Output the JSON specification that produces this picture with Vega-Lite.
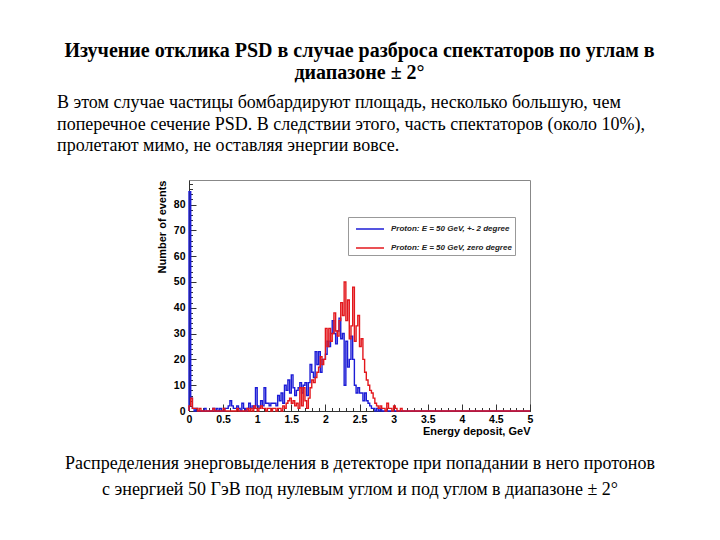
{
  "$schema": "https://vega.github.io/schema/vega-lite/v6.json",
  "width": 341,
  "height": 231,
  "autosize": {"type": "none"},
  "padding": {"left": 189, "top": 180, "right": 190, "bottom": 129},
  "background": "white",
  "config": {"view": {"stroke": "#888", "strokeWidth": 1}},
  "title": {
    "text": ["Изучение отклика PSD в случае разброса спектаторов по углам в", "диапазоне ± 2°"],
    "frame": "group",
    "anchor": "middle",
    "font": "Liberation Serif",
    "fontSize": 20,
    "fontWeight": "bold",
    "color": "black",
    "lineHeight": 22,
    "offset": 11
  },
  "datasets": {
    "blue": [{"e":0,"n":0},{"e":0,"n":85},{"e":0.025,"n":5},{"e":0.05,"n":1},{"e":0.075,"n":0},{"e":0.1,"n":1},{"e":0.125,"n":0},{"e":0.15,"n":0},{"e":0.175,"n":0},{"e":0.2,"n":0},{"e":0.225,"n":1},{"e":0.25,"n":0},{"e":0.275,"n":0},{"e":0.3,"n":0},{"e":0.325,"n":0},{"e":0.35,"n":1},{"e":0.375,"n":0},{"e":0.4,"n":1},{"e":0.425,"n":0},{"e":0.45,"n":1},{"e":0.475,"n":0},{"e":0.5,"n":0},{"e":0.525,"n":1},{"e":0.55,"n":1},{"e":0.575,"n":2},{"e":0.6,"n":4},{"e":0.625,"n":2},{"e":0.65,"n":1},{"e":0.675,"n":1},{"e":0.7,"n":2},{"e":0.725,"n":1},{"e":0.75,"n":0},{"e":0.775,"n":3},{"e":0.8,"n":1},{"e":0.825,"n":0},{"e":0.85,"n":1},{"e":0.875,"n":3},{"e":0.9,"n":1},{"e":0.925,"n":2},{"e":0.95,"n":1},{"e":0.975,"n":9},{"e":1,"n":2},{"e":1.025,"n":1},{"e":1.05,"n":4},{"e":1.075,"n":2},{"e":1.1,"n":9},{"e":1.125,"n":3},{"e":1.15,"n":3},{"e":1.175,"n":2},{"e":1.2,"n":3},{"e":1.225,"n":3},{"e":1.25,"n":3},{"e":1.275,"n":2},{"e":1.3,"n":6},{"e":1.325,"n":4},{"e":1.35,"n":7},{"e":1.375,"n":3},{"e":1.4,"n":10},{"e":1.425,"n":8},{"e":1.45,"n":12},{"e":1.475,"n":7},{"e":1.5,"n":14},{"e":1.525,"n":9},{"e":1.55,"n":6},{"e":1.575,"n":8},{"e":1.6,"n":9},{"e":1.625,"n":11},{"e":1.65,"n":7},{"e":1.675,"n":10},{"e":1.7,"n":11},{"e":1.725,"n":6},{"e":1.75,"n":11},{"e":1.775,"n":18},{"e":1.8,"n":15},{"e":1.825,"n":13},{"e":1.85,"n":23},{"e":1.875,"n":18},{"e":1.9,"n":23},{"e":1.925,"n":15},{"e":1.95,"n":20},{"e":1.975,"n":20},{"e":2,"n":22},{"e":2.025,"n":27},{"e":2.05,"n":25},{"e":2.075,"n":30},{"e":2.1,"n":35},{"e":2.125,"n":30},{"e":2.15,"n":26},{"e":2.175,"n":31},{"e":2.2,"n":36},{"e":2.225,"n":28},{"e":2.25,"n":30},{"e":2.275,"n":10},{"e":2.3,"n":27},{"e":2.325,"n":17},{"e":2.35,"n":20},{"e":2.375,"n":29},{"e":2.4,"n":20},{"e":2.425,"n":10},{"e":2.45,"n":7},{"e":2.475,"n":9},{"e":2.5,"n":7},{"e":2.525,"n":7},{"e":2.55,"n":4},{"e":2.575,"n":7},{"e":2.6,"n":4},{"e":2.625,"n":3},{"e":2.65,"n":2},{"e":2.675,"n":1},{"e":2.7,"n":1},{"e":2.725,"n":0},{"e":2.75,"n":1},{"e":2.775,"n":0},{"e":2.8,"n":1},{"e":2.825,"n":0},{"e":5,"n":0}],
    "red": [{"e":0,"n":0},{"e":0,"n":2},{"e":0.025,"n":5},{"e":0.05,"n":1},{"e":0.075,"n":1},{"e":0.1,"n":1},{"e":0.125,"n":0},{"e":0.15,"n":1},{"e":0.175,"n":0},{"e":0.2,"n":0},{"e":0.225,"n":0},{"e":0.25,"n":0},{"e":0.275,"n":0},{"e":0.3,"n":0},{"e":0.325,"n":0},{"e":0.35,"n":1},{"e":0.375,"n":0},{"e":0.4,"n":0},{"e":0.425,"n":0},{"e":0.45,"n":0},{"e":0.475,"n":0},{"e":0.5,"n":1},{"e":0.525,"n":0},{"e":0.55,"n":0},{"e":0.575,"n":0},{"e":0.6,"n":0},{"e":0.625,"n":0},{"e":0.65,"n":0},{"e":0.675,"n":0},{"e":0.7,"n":1},{"e":0.725,"n":0},{"e":0.75,"n":0},{"e":0.775,"n":0},{"e":0.8,"n":0},{"e":0.825,"n":0},{"e":0.85,"n":1},{"e":0.875,"n":0},{"e":0.9,"n":1},{"e":0.925,"n":0},{"e":0.95,"n":2},{"e":0.975,"n":1},{"e":1,"n":0},{"e":1.025,"n":1},{"e":1.05,"n":2},{"e":1.075,"n":1},{"e":1.1,"n":1},{"e":1.125,"n":0},{"e":1.15,"n":1},{"e":1.175,"n":1},{"e":1.2,"n":0},{"e":1.225,"n":1},{"e":1.25,"n":1},{"e":1.275,"n":0},{"e":1.3,"n":1},{"e":1.325,"n":1},{"e":1.35,"n":0},{"e":1.375,"n":2},{"e":1.4,"n":1},{"e":1.425,"n":3},{"e":1.45,"n":4},{"e":1.475,"n":5},{"e":1.5,"n":3},{"e":1.525,"n":4},{"e":1.55,"n":2},{"e":1.575,"n":3},{"e":1.6,"n":1},{"e":1.625,"n":9},{"e":1.65,"n":2},{"e":1.675,"n":9},{"e":1.7,"n":4},{"e":1.725,"n":1},{"e":1.75,"n":5},{"e":1.775,"n":9},{"e":1.8,"n":12},{"e":1.825,"n":11},{"e":1.85,"n":13},{"e":1.875,"n":15},{"e":1.9,"n":17},{"e":1.925,"n":21},{"e":1.95,"n":18},{"e":1.975,"n":20},{"e":2,"n":32},{"e":2.025,"n":25},{"e":2.05,"n":32},{"e":2.075,"n":27},{"e":2.1,"n":30},{"e":2.125,"n":38},{"e":2.15,"n":31},{"e":2.175,"n":29},{"e":2.2,"n":35},{"e":2.225,"n":42},{"e":2.25,"n":37},{"e":2.275,"n":50},{"e":2.3,"n":35},{"e":2.325,"n":43},{"e":2.35,"n":28},{"e":2.375,"n":33},{"e":2.4,"n":48},{"e":2.425,"n":27},{"e":2.45,"n":33},{"e":2.475,"n":37},{"e":2.5,"n":25},{"e":2.525,"n":28},{"e":2.55,"n":20},{"e":2.575,"n":15},{"e":2.6,"n":12},{"e":2.625,"n":10},{"e":2.65,"n":8},{"e":2.675,"n":7},{"e":2.7,"n":5},{"e":2.725,"n":3},{"e":2.75,"n":2},{"e":2.775,"n":1},{"e":2.8,"n":2},{"e":2.825,"n":1},{"e":2.85,"n":1},{"e":2.875,"n":0},{"e":2.9,"n":3},{"e":2.925,"n":1},{"e":2.95,"n":1},{"e":2.975,"n":0},{"e":3,"n":2},{"e":3.025,"n":1},{"e":3.05,"n":0},{"e":3.075,"n":0},{"e":3.1,"n":1},{"e":3.125,"n":0},{"e":5,"n":0}]
  },
  "layer": [
    {
      "data": {"name": "blue"},
      "mark": {"type": "line", "interpolate": "step-after", "strokeWidth": 1.4},
      "encoding": {
        "x": {"field": "e", "type": "quantitative", "scale": {"domain": [0, 5], "nice": false, "zero": false},
          "axis": {"values": [0,0.5,1,1.5,2,2.5,3,3.5,4,4.5,5], "format": "~g", "tickSize": -7, "labelPadding": 10, "labelFont": "Liberation Sans", "labelFontWeight": "bold", "labelFontSize": 10.5, "labelColor": "black", "labelFlush": false, "labelOverlap": false, "domainColor": "#333", "tickColor": "#333", "grid": false,
            "title": "Energy deposit, GeV", "titleFont": "Liberation Sans", "titleFontSize": 11, "titleFontWeight": "bold", "titleColor": "black", "titleAnchor": "end", "titlePadding": 1}},
        "y": {"field": "n", "type": "quantitative", "scale": {"domain": [0, 89.5], "nice": false},
          "axis": {"values": [0,10,20,30,40,50,60,70,80], "tickSize": -7, "labelPadding": 11, "labelFont": "Liberation Sans", "labelFontWeight": "bold", "labelFontSize": 10.5, "labelColor": "black", "labelFlush": false, "domainColor": "#333", "tickColor": "#333", "grid": false,
            "title": "Number of events", "titleFont": "Liberation Sans", "titleFontSize": 11, "titleFontWeight": "bold", "titleColor": "black", "titleAnchor": "end", "titlePadding": 6}},
        "color": {"datum": "Proton: E = 50 GeV, +- 2 degree", "type": "nominal",
          "scale": {"domain": ["Proton: E = 50 GeV, +- 2 degree", "Proton: E = 50 GeV, zero degree"], "range": ["#1c1cd6", "#e3171c"]},
          "legend": {"orient": "none", "legendX": 159, "legendY": 37, "title": null, "symbolType": "M-1.75,0H1.75", "symbolSize": 256, "symbolStrokeWidth": 1.5, "symbolOffset": 10, "labelOffset": 12, "labelFont": "Liberation Sans", "labelFontSize": 8, "labelFontStyle": "italic", "labelFontWeight": "bold", "labelColor": "#222", "padding": 3, "rowPadding": 6, "fillColor": "white", "strokeColor": "#999", "labelLimit": 0}}
      }
    },
    {
      "data": {"name": "red"},
      "mark": {"type": "line", "interpolate": "step-after", "strokeWidth": 1.4},
      "encoding": {
        "x": {"field": "e", "type": "quantitative", "scale": {"domain": [0, 5], "nice": false, "zero": false},
          "axis": {"orient": "bottom", "values": [0,0.1,0.2,0.3,0.4,0.5,0.6,0.7,0.8,0.9,1,1.1,1.2,1.3,1.4,1.5,1.6,1.7,1.8,1.9,2,2.1,2.2,2.3,2.4,2.5,2.6,2.7,2.8,2.9,3,3.1,3.2,3.3,3.4,3.5,3.6,3.7,3.8,3.9,4,4.1,4.2,4.3,4.4,4.5,4.6,4.7,4.8,4.9,5], "tickSize": -3.5, "labels": false, "domain": false, "grid": false, "title": null, "tickColor": "#333"}},
        "y": {"field": "n", "type": "quantitative", "scale": {"domain": [0, 89.5], "nice": false},
          "axis": {"orient": "left", "values": [0,2,4,6,8,10,12,14,16,18,20,22,24,26,28,30,32,34,36,38,40,42,44,46,48,50,52,54,56,58,60,62,64,66,68,70,72,74,76,78,80,82,84,86,88], "tickSize": -3.5, "labels": false, "domain": false, "grid": false, "title": null, "tickColor": "#333"}},
        "color": {"datum": "Proton: E = 50 GeV, zero degree", "type": "nominal"}
      }
    },
    {
      "data": {"values": [{}]},
      "mark": {"type": "text", "text": "В этом случае частицы бомбардируют площадь, несколько большую, чем\nпоперечное сечение PSD. В следствии этого, часть спектаторов (около 10%),\nпролетают мимо, не оставляя энергии вовсе.", "lineBreak": "\n", "lineHeight": 21.5, "align": "left", "baseline": "top", "font": "Liberation Serif", "fontSize": 18, "color": "black"},
      "encoding": {"x": {"value": -132}, "y": {"value": -86}}
    },
    {
      "data": {"values": [{}]},
      "mark": {"type": "text", "text": "Распределения энерговыделения в детекторе при попадании в него протонов\nс энергией 50 ГэВ под нулевым углом и под углом в диапазоне ± 2°", "lineBreak": "\n", "lineHeight": 26, "align": "center", "baseline": "top", "font": "Liberation Serif", "fontSize": 18, "color": "black"},
      "encoding": {"x": {"value": 171}, "y": {"value": 275}}
    }
  ],
  "resolve": {"axis": {"x": "independent", "y": "independent"}}
}
